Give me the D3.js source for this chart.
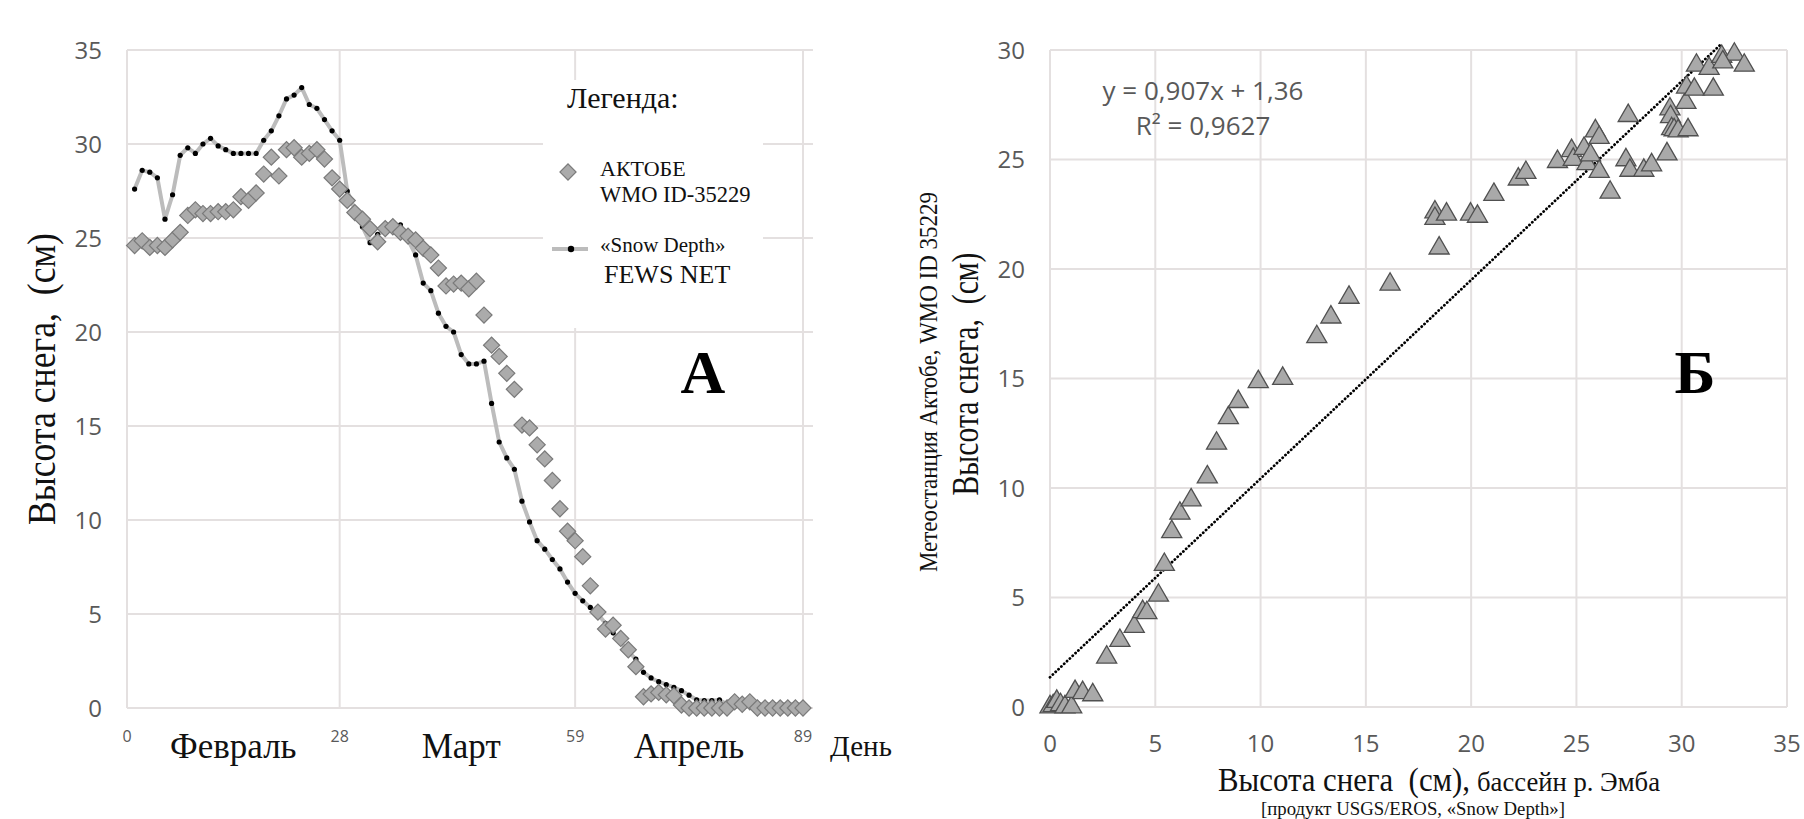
<!DOCTYPE html>
<html>
<head>
<meta charset="utf-8">
<script src="https://cdn.jsdelivr.net/npm/d3@7"></script>
<style>
  html, body { margin: 0; padding: 0; background: #ffffff; }
  svg { display: block; }
  text { white-space: pre; }
</style>
</head>
<body>
<svg id="chart" width="1804" height="819"></svg>
<script>
// ---------- DATA : panel A (time series) ----------
const days = [1,2,3,4,5,6,7,8,9,10,11,12,13,14,15,16,17,18,19,20,21,22,23,24,25,26,27,28,29,30,
  31,32,33,34,35,36,37,38,39,40,41,42,43,44,45,46,47,48,49,50,51,52,53,54,55,56,57,58,59,60,
  61,62,63,64,65,66,67,68,69,70,71,72,73,74,75,76,77,78,79,80,81,82,83,84,85,86,87,88,89];

const aktobe = [24.6,24.85,24.5,24.6,24.5,24.9,25.3,26.2,26.5,26.3,26.3,26.4,26.4,26.5,27.2,27.0,27.4,28.4,29.3,28.3,
  29.7,29.8,29.3,29.5,29.7,29.2,28.2,27.6,27.0,26.35,26.0,25.5,24.8,25.5,25.6,25.3,25.1,24.9,24.45,24.1,
  23.4,22.45,22.55,22.6,22.3,22.7,20.9,19.3,18.7,17.8,16.95,15.05,14.9,14.0,13.25,12.1,10.6,9.4,8.9,8.05,
  6.5,5.1,4.2,4.4,3.7,3.1,2.2,0.6,0.75,0.83,0.7,0.65,0.16,0,0,0,0,0,0,0.33,
  0.2,0.33,0,0,0,0,0,0,0];

const fewsNet = [27.6,28.6,28.5,28.2,26.0,27.3,29.4,29.8,29.5,30.0,30.3,29.9,29.7,29.5,29.5,29.5,29.5,30.2,30.7,31.5,
  32.4,32.6,33.0,32.1,31.9,31.3,30.7,30.2,27.5,26.5,25.6,24.75,25.2,25.4,25.5,25.7,24.9,24.1,22.6,22.2,
  21.0,20.3,20.0,18.8,18.3,18.3,18.45,16.2,14.15,13.3,12.7,11.0,9.9,8.9,8.45,7.9,7.4,6.7,6.1,5.7,
  5.35,5.0,4.5,4.0,3.5,3.0,2.6,1.9,1.6,1.4,1.25,1.1,0.92,0.68,0.43,0.4,0.4,0.43,0.2,0.2,
  0.2,0.2,0.2,0.2,0.2,0.2,0.2,0.2,0.2];

const aYTicks = [0,5,10,15,20,25,30,35];
const aXTicks = [0,28,59,89];
const months = [{name:"Февраль", mid:14}, {name:"Март", mid:44}, {name:"Апрель", mid:74}];

// ---------- DATA : panel B (scatter) ----------
const fewsX = [0,0.15,0.32,0.5,0.71,1.03,1.19,1.55,2.03,2.69,3.32,4.0,4.4,4.6,5.15,5.43,5.78,6.17,6.7,7.47,
  7.91,8.47,8.94,9.89,11.05,12.67,13.34,14.2,16.15,18.28,18.28,18.83,18.48,19.97,20.3,21.08,22.24,22.6,24.1,24.77,
  24.85,25.36,25.5,25.67,25.9,26.08,26.08,26.6,27.46,27.35,27.54,28.2,28.57,29.3,29.44,29.47,29.52,29.64,29.83,30.3,
  30.2,30.23,30.6,31.5,30.7,31.3,31.9,32.5,32.97,31.95];
const stationY = [0,0.05,0.25,0.1,0,0,0.7,0.65,0.55,2.27,3.03,3.67,4.35,4.3,5.1,6.5,8.0,8.84,9.45,10.5,
  12.04,13.2,13.94,14.85,15.0,16.9,17.8,18.7,19.3,22.6,22.3,22.5,20.95,22.5,22.4,23.4,24.1,24.4,24.9,25.4,
  25.0,25.5,24.8,25.2,26.3,26.0,24.45,23.5,27.0,24.98,24.5,24.5,24.75,25.25,27.3,26.95,26.4,26.35,26.3,26.35,
  27.6,28.3,28.2,28.2,29.3,29.15,29.7,29.8,29.3,29.45];
const trendSlope = 0.907, trendIntercept = 1.36;
const trendRange = [0, 31.8];
const bXTicks = [0,5,10,15,20,25,30,35];
const bYTicks = [0,5,10,15,20,25,30];

// ---------- STYLE ----------
const SERIF = "'Liberation Serif','Times New Roman',serif";
const SANS = "'Open Sans','Noto Sans',sans-serif";
const GRID = "#e4e0e0";
const TICK = "#595959";

const svg = d3.select("#chart");
svg.append("rect").attr("width",1804).attr("height",819).attr("fill","#fff");

// ================= PANEL A =================
const xA = d3.scaleLinear().domain([0, 89]).range([127, 803]);
const yA = d3.scaleLinear().domain([0, 35]).range([708, 50]);
const gA = svg.append("g");

gA.selectAll("line.hg").data(aYTicks).join("line")
  .attr("x1", xA(0)).attr("x2", xA(89) + 10)
  .attr("y1", d => yA(d)).attr("y2", d => yA(d))
  .attr("stroke", GRID).attr("stroke-width", 2);
gA.selectAll("line.vg").data(aXTicks).join("line")
  .attr("x1", d => xA(d)).attr("x2", d => xA(d))
  .attr("y1", yA(0)).attr("y2", yA(35))
  .attr("stroke", GRID).attr("stroke-width", 2);

// legend background
gA.append("rect").attr("x", 543).attr("y", 80).attr("width", 220).attr("height", 248).attr("fill", "#fff");

gA.selectAll("text.yt").data(aYTicks).join("text")
  .attr("x", 102).attr("y", d => yA(d)).attr("dy", "0.36em")
  .attr("text-anchor", "end").attr("fill", TICK)
  .style("font-family", SANS).style("font-size", "24px").text(d => d);
gA.selectAll("text.xt").data(aXTicks).join("text")
  .attr("x", d => xA(d)).attr("y", 742)
  .attr("text-anchor", "middle").attr("fill", TICK)
  .style("font-family", SANS).style("font-size", "16px").text(d => d);
gA.selectAll("text.mo").data(months).join("text")
  .attr("x", d => xA(d.mid) + 0).attr("y", 758)
  .attr("text-anchor", "middle").attr("fill", "#111")
  .style("font-family", SERIF).style("font-size", "35px").text(d => d.name);
gA.append("text").attr("x", 861).attr("y", 756).attr("text-anchor", "middle")
  .attr("fill", "#111").style("font-family", SERIF).style("font-size", "29px").text("День");

gA.append("text").attr("transform", "translate(55,379) rotate(-90)")
  .attr("text-anchor", "middle").attr("fill", "#111")
  .attr("textLength", 292).attr("lengthAdjust", "spacingAndGlyphs")
  .style("font-family", SERIF).style("font-size", "40px").text("Высота снега,  (см)");

// FEWS line + dots
const lineA = d3.line().x((d, i) => xA(days[i])).y(d => yA(d));
gA.append("path").datum(fewsNet).attr("d", lineA)
  .attr("fill", "none").attr("stroke", "#bcbcbc").attr("stroke-width", 4).attr("stroke-linejoin", "round");
gA.selectAll("circle.fd").data(fewsNet).join("circle")
  .attr("cx", (d, i) => xA(days[i])).attr("cy", d => yA(d)).attr("r", 2.6).attr("fill", "#000");

// Aktobe diamonds
const diamond = d3.symbol().type(d3.symbolSquare).size(130);
gA.selectAll("path.ak").data(aktobe).join("path")
  .attr("d", diamond)
  .attr("transform", (d, i) => `translate(${xA(days[i])},${yA(d)}) rotate(45)`)
  .attr("fill", "#ababab").attr("stroke", "#7a7a7a").attr("stroke-width", 1.2);

// legend
gA.append("text").attr("x", 567).attr("y", 108).attr("fill", "#111")
  .style("font-family", SERIF).style("font-size", "30px").text("Легенда:");
gA.append("path").attr("d", diamond).attr("transform", "translate(568,172) rotate(45)")
  .attr("fill", "#ababab").attr("stroke", "#7a7a7a").attr("stroke-width", 1.2);
gA.append("text").attr("x", 600).attr("y", 176).attr("fill", "#111")
  .style("font-family", SERIF).style("font-size", "22px").text("АКТОБЕ");
gA.append("text").attr("x", 600).attr("y", 202).attr("fill", "#111")
  .style("font-family", SERIF).style("font-size", "22.5px").text("WMO ID-35229");
gA.append("line").attr("x1", 552).attr("x2", 588).attr("y1", 249).attr("y2", 249)
  .attr("stroke", "#bcbcbc").attr("stroke-width", 4);
gA.append("circle").attr("cx", 571).attr("cy", 249).attr("r", 3.2).attr("fill", "#000");
gA.append("text").attr("x", 600).attr("y", 252).attr("fill", "#111")
  .style("font-family", SERIF).style("font-size", "21px").text("«Snow Depth»");
gA.append("text").attr("x", 604).attr("y", 283).attr("fill", "#111")
  .style("font-family", SERIF).style("font-size", "26px").text("FEWS NET");

gA.append("text").attr("x", 703).attr("y", 393).attr("text-anchor", "middle").attr("fill", "#000")
  .style("font-family", SERIF).style("font-size", "62px").style("font-weight", "bold").text("A");

// ================= PANEL B =================
const xB = d3.scaleLinear().domain([0, 35]).range([1050, 1787]);
const yB = d3.scaleLinear().domain([0, 30]).range([707, 50]);
const gB = svg.append("g");

gB.selectAll("line.hg").data(bYTicks).join("line")
  .attr("x1", xB(0)).attr("x2", xB(35))
  .attr("y1", d => yB(d)).attr("y2", d => yB(d))
  .attr("stroke", GRID).attr("stroke-width", 2);
gB.selectAll("line.vg").data(bXTicks).join("line")
  .attr("x1", d => xB(d)).attr("x2", d => xB(d))
  .attr("y1", yB(0)).attr("y2", yB(30))
  .attr("stroke", GRID).attr("stroke-width", 2);

gB.selectAll("text.yt").data(bYTicks).join("text")
  .attr("x", 1025).attr("y", d => yB(d)).attr("dy", "0.36em")
  .attr("text-anchor", "end").attr("fill", TICK)
  .style("font-family", SANS).style("font-size", "24px").text(d => d);
gB.selectAll("text.xt").data(bXTicks).join("text")
  .attr("x", d => xB(d)).attr("y", 752)
  .attr("text-anchor", "middle").attr("fill", TICK)
  .style("font-family", SANS).style("font-size", "24px").text(d => d);

// regression (dotted)
gB.append("line")
  .attr("x1", xB(trendRange[0])).attr("y1", yB(trendSlope * trendRange[0] + trendIntercept))
  .attr("x2", xB(trendRange[1])).attr("y2", yB(trendSlope * trendRange[1] + trendIntercept))
  .attr("stroke", "#000").attr("stroke-width", 2.8)
  .attr("stroke-dasharray", "0.1 3.8").attr("stroke-linecap", "round");

const tri = d3.symbol().type(d3.symbolTriangle).size(175);
gB.selectAll("path.pt").data(fewsX).join("path")
  .attr("d", tri)
  .attr("transform", (d, i) => `translate(${xB(d)},${yB(stationY[i])})`)
  .attr("fill", "#a9a9a9").attr("stroke", "#505050").attr("stroke-width", 1.3);

gB.append("text").attr("x", 1203).attr("y", 100).attr("text-anchor", "middle").attr("fill", TICK)
  .style("font-family", SANS).style("font-size", "26px")
  .text(`y = ${String(trendSlope).replace(".", ",")}x + ${String(trendIntercept).replace(".", ",")}`);
gB.append("text").attr("x", 1203).attr("y", 135).attr("text-anchor", "middle").attr("fill", TICK)
  .style("font-family", SANS).style("font-size", "26px").text("R² = 0,9627");

gB.append("text").attr("transform", "translate(937,382) rotate(-90)")
  .attr("text-anchor", "middle").attr("fill", "#111")
  .attr("textLength", 380).attr("lengthAdjust", "spacingAndGlyphs")
  .style("font-family", SERIF).style("font-size", "26px").text("Метеостанция Актобе, WMO ID 35229");
gB.append("text").attr("transform", "translate(978,374) rotate(-90)")
  .attr("text-anchor", "middle").attr("fill", "#111")
  .attr("textLength", 243).attr("lengthAdjust", "spacingAndGlyphs")
  .style("font-family", SERIF).style("font-size", "38px").text("Высота снега,  (см)");

gB.append("text").attr("x", 1218).attr("y", 791).attr("fill", "#111")
  .attr("textLength", 252).attr("lengthAdjust", "spacingAndGlyphs")
  .style("font-family", SERIF).style("font-size", "33px").text("Высота снега  (см),");
gB.append("text").attr("x", 1477).attr("y", 791).attr("fill", "#111")
  .attr("textLength", 183).attr("lengthAdjust", "spacingAndGlyphs")
  .style("font-family", SERIF).style("font-size", "28px").text("бассейн р. Эмба");
gB.append("text").attr("x", 1261).attr("y", 815).attr("fill", "#111")
  .attr("textLength", 304).attr("lengthAdjust", "spacingAndGlyphs")
  .style("font-family", SERIF).style("font-size", "18px").text("[продукт USGS/EROS, «Snow Depth»]");

gB.append("text").attr("x", 1695).attr("y", 393).attr("text-anchor", "middle").attr("fill", "#000")
  .style("font-family", SERIF).style("font-size", "62px").style("font-weight", "bold").text("Б");
</script>
</body>
</html>
